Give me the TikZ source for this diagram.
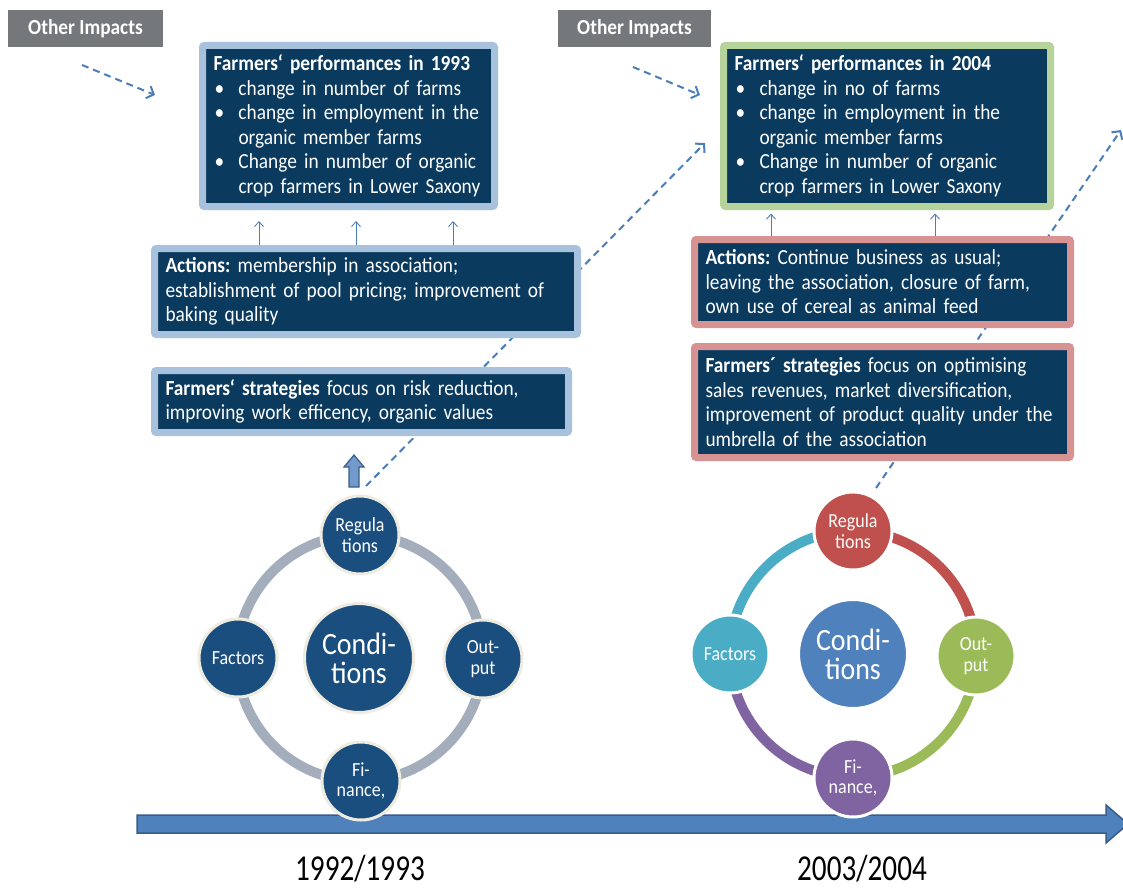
\documentclass[tikz,border=0pt]{standalone}
\usepackage{fontspec}
\setmainfont{Carlito}[FakeStretch=0.9]
\newfontfamily\yearfont{Carlito}[FakeStretch=0.8]
\usetikzlibrary{arrows.meta}

\definecolor{boxnavy}{HTML}{0B3A5F}
\definecolor{edgeblue}{HTML}{A8C2DD}
\definecolor{edgegreen}{HTML}{B6D39B}
\definecolor{edgered}{HTML}{D69392}
\definecolor{impactgray}{HTML}{75787B}
\definecolor{dashblue}{HTML}{4A7EBB}
\definecolor{condblue}{HTML}{1A4E7F}
\definecolor{ringgray}{HTML}{A3ADBC}
\definecolor{ringcream}{HTML}{EEECE1}
\definecolor{tlblue}{HTML}{4F81BD}
\definecolor{tlborder}{HTML}{385D8A}
\definecolor{segred}{HTML}{C0504D}
\definecolor{seggreen}{HTML}{9BBB59}
\definecolor{segpurple}{HTML}{8064A2}
\definecolor{segteal}{HTML}{4BACC6}

% bullet and hanging indent for the performance lists
\newcommand{\bitem}{\makebox[25pt][l]{\hspace{1pt}\textbullet}}
\newcommand{\bcont}{\makebox[25pt]{}}

\tikzset{
  infobox/.style={fill=boxnavy, line width=7pt, rounded corners=2pt, text=white,
    align=left, inner xsep=11pt, inner ysep=0pt, font=\fontsize{21.5}{24.5}\selectfont},
  impactbox/.style={fill=impactgray, text=white, font=\bfseries\fontsize{21.5}{22}\selectfont,
    minimum width=155pt, minimum height=37pt, inner sep=0pt},
  dasharrow/.style={draw=dashblue, line width=2pt, dash pattern=on 7pt off 5pt,
    -{Straight Barb[length=6pt,width=13pt]}},
  uparrow/.style={draw=dashblue, line width=0.9pt, -{Straight Barb[length=5pt,width=9pt]}},
  condition/.style={circle, draw=ringcream, line width=3pt, text=white, align=center,
    minimum size=78pt, inner sep=0pt, font=\fontsize{20}{20.5}\selectfont},
  bigcondition/.style={condition, minimum size=109pt, font=\fontsize{31}{29}\selectfont},
  year/.style={font=\yearfont\fontsize{36.5}{36}\selectfont}
}

\begin{document}
\frenchspacing
\begin{tikzpicture}[x=1pt,y=1pt]
\clip (0,0) rectangle (1123,-888);
\fill[white] (0,0) rectangle (1123,-888);

% long dashed links, running behind the boxes
\coordinate (l1s) at (366,-486);
\coordinate (l1e) at (705,-143);
\coordinate (l2s) at (876,-488);
\coordinate (l2e) at (1121,-130);
\draw[dasharrow] (l1s) -- (l1e);
\draw[dasharrow] (l2s) -- (l2e);

% time line
\draw[fill=tlblue, draw=tlborder, line width=1.5pt] (137,-815) -- (1106,-815) -- (1106,-805)
  -- (1128,-824) -- (1106,-843) -- (1106,-833) -- (137,-833) -- cycle;

% conditions 1992/1993
\draw[ringgray, line width=10pt] (360,-658) circle[radius=123pt];
\node[bigcondition, fill=condblue] (cond1) at (359,-658) {Condi-\\tions};
\node[condition, fill=condblue] (reg1) at (360,-535) {Regula\\tions};
\node[condition, fill=condblue] (fac1) at (238,-658) {Factors};
\node[condition, fill=condblue] (out1) at (483,-659) {Out-\\put};
\node[condition, fill=condblue] (fin1) at (361,-781) {Fi-\\nance,};

% conditions 2003/2004
\draw[segred, line width=10pt] (853,-531) arc[start angle=90, end angle=0, radius=123pt];
\draw[seggreen, line width=10pt] (976,-654) arc[start angle=0, end angle=-90, radius=123pt];
\draw[segpurple, line width=10pt] (853,-777) arc[start angle=-90, end angle=-180, radius=123pt];
\draw[segteal, line width=10pt] (730,-654) arc[start angle=180, end angle=90, radius=123pt];
\node[bigcondition, fill=tlblue, draw=white] (cond2) at (853,-654) {Condi-\\tions};
\node[condition, fill=segred, draw=white] (reg2) at (853,-531) {Regula\\tions};
\node[condition, fill=segteal, draw=white] (fac2) at (730,-654) {Factors};
\node[condition, fill=seggreen, draw=white] (out2) at (976,-656) {Out-\\put};
\node[condition, fill=segpurple, draw=white] (fin2) at (853,-778) {Fi-\\nance,};

% boxes 1993
\node[infobox, draw=edgeblue, minimum width=292pt, minimum height=161pt, text width=270pt]
  (perf1) at (348.5,-126) {\textbf{Farmers‘ performances in 1993}\\
  \bitem change in number of farms\\
  \bitem change in employment in the\\
  \bcont organic member farms\\
  \bitem Change in number of organic\\
  \bcont crop farmers in Lower Saxony};
\node[infobox, draw=edgeblue, minimum width=423pt, minimum height=86pt, text width=401pt]
  (act1) at (366,-291.5) {\textbf{Actions:} membership in association;\\
  establishment of pool pricing; improvement of\\
  baking quality};
\node[infobox, draw=edgeblue, minimum width=414pt, minimum height=62pt, text width=392pt]
  (strat1) at (361.5,-401.5) {\textbf{Farmers‘ strategies} focus on risk reduction,\\
  improving work efficency, organic values};

% boxes 2004
\node[infobox, draw=edgegreen, minimum width=327pt, minimum height=161pt, text width=305pt]
  (perf2) at (887,-126) {\textbf{Farmers‘ performances in 2004}\\
  \bitem change in no of farms\\
  \bitem change in employment in the\\
  \bcont organic member farms\\
  \bitem Change in number of organic\\
  \bcont crop farmers in Lower Saxony};
\node[infobox, draw=edgered, minimum width=376pt, minimum height=85pt, text width=354pt]
  (act2) at (882.5,-282) {\textbf{Actions:} Continue business as usual;\\
  leaving the association, closure of farm,\\
  own use of cereal as animal feed};
\node[infobox, draw=edgered, minimum width=376pt, minimum height=111pt, text width=354pt]
  (strat2) at (882.5,-402) {\textbf{Farmers´ strategies} focus on optimising\\
  sales revenues, market diversification,\\
  improvement of product quality under the\\
  umbrella of the association};

% other impacts
\node[impactbox] (imp1) at (85.5,-28.5) {Other Impacts};
\node[impactbox, minimum width=153pt] (imp2) at (634.5,-28.5) {Other Impacts};
\coordinate (d1s) at (82,-65);
\coordinate (d1e) at (155,-95);
\coordinate (d2s) at (633,-67);
\coordinate (d2e) at (700,-95);
\draw[dasharrow] (d1s) -- (d1e);
\draw[dasharrow] (d2s) -- (d2e);

% actions lead to performances
\coordinate (u1) at (259,0);
\coordinate (u2) at (356,0);
\coordinate (u3) at (453,0);
\coordinate (u4) at (771,0);
\coordinate (u5) at (935,0);
\foreach \u in {u1,u2,u3}
  \draw[uparrow, shorten >=11pt] (act1.north -| \u) -- (perf1.south -| \u);
\foreach \u in {u4,u5}
  \draw[uparrow, shorten >=3.5pt] (act2.north -| \u) -- (perf2.south -| \u);

% block arrow from conditions to strategies
\draw[fill=tlblue!80, draw=tlborder, line width=1.2pt] (349,-487) -- (349,-467) -- (344,-467)
  -- (354,-455) -- (364,-467) -- (359,-467) -- (359,-487) -- cycle;

% years
\node[year] (yr1) at (360,-869) {1992/1993};
\node[year] (yr2) at (862,-869) {2003/2004};
\end{tikzpicture}
\end{document}
